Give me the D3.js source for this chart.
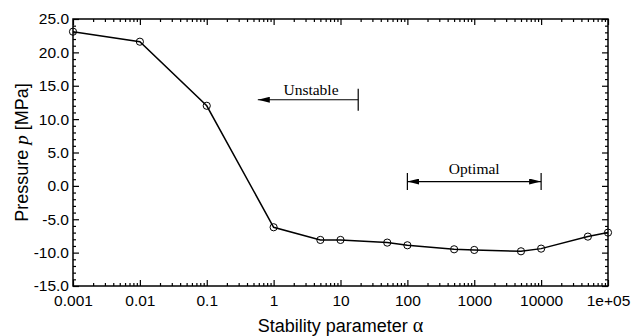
<!DOCTYPE html>
<html>
<head>
<meta charset="utf-8">
<script src="https://cdn.jsdelivr.net/npm/d3@7"></script>
<style>
  body { margin: 0; background: #fff; }
  svg { display: block; }
</style>
</head>
<body>
<div id="chart"></div>
<script>
// stability parameter vs pressure
const alphas = [0.001, 0.01, 0.1, 1, 5, 10, 50, 100, 500, 1000, 5000, 10000, 50000, 100000];
const pressures = [23.1, 21.6, 12.0, -6.2, -8.1, -8.1, -8.5, -8.9, -9.5, -9.6, -9.8, -9.4, -7.6, -7.0];

const xTicks = [0.001, 0.01, 0.1, 1, 10, 100, 1000, 10000, 100000];
const xTickLabels = ["0.001", "0.01", "0.1", "1", "10", "100", "1000", "10000", "1e+05"];
const yTicks = [-15, -10, -5, 0, 5, 10, 15, 20, 25];

// annotation ranges (alpha from, alpha to, pressure level)
const unstable = { label: "Unstable", from: 18.4, to: 0.58, y: 12.9 };
const optimal = { label: "Optimal", from: 100, to: 10000, y: 0.65 };

function drawChart(containerId = "#chart") {
    const width = 535;
    const height = 267;
    const margin = { top: 19, right: 29, bottom: 50, left: 73 };

    const root = d3.select(containerId)
        .append("svg")
        .attr("width", width + margin.left + margin.right)
        .attr("height", height + margin.top + margin.bottom);

    const defs = root.append("defs");
    defs.append("marker")
        .attr("id", "head")
        .attr("viewBox", "0 0 12 6")
        .attr("refX", 12)
        .attr("refY", 3)
        .attr("markerWidth", 12)
        .attr("markerHeight", 6)
        .attr("markerUnits", "userSpaceOnUse")
        .attr("orient", "auto-start-reverse")
        .append("path")
        .attr("d", "M0,0 L12,3 L0,6 Z")
        .attr("fill", "#000");

    const svg = root.append("g")
        .attr("transform", `translate(${margin.left},${margin.top})`);

    const x = d3.scaleLog()
        .domain([0.001, 100000])
        .range([0, width]);

    const y = d3.scaleLinear()
        .domain([-15, 25])
        .range([height, 0]);

    // minor ticks
    const xMinor = [];
    xTicks.slice(0, -1).forEach(d => {
        for (let k = 2; k <= 9; k++) xMinor.push(d * k);
    });
    const yMinor = d3.range(-15, 26, 1).filter(v => v % 5 !== 0);

    const minorAxes = [
        [d3.axisBottom(x).tickValues(xMinor), `translate(0,${height})`],
        [d3.axisTop(x).tickValues(xMinor), null],
        [d3.axisLeft(y).tickValues(yMinor), null],
        [d3.axisRight(y).tickValues(yMinor), `translate(${width},0)`]
    ];
    minorAxes.forEach(([ax, tr]) => {
        const g = svg.append("g")
            .call(ax.tickSize(-3).tickSizeOuter(0).tickFormat(""));
        if (tr) g.attr("transform", tr);
        g.select(".domain").remove();
        g.selectAll("line").attr("stroke", "#000").attr("stroke-width", 1);
    });

    // major ticks with labels
    const xAxis = svg.append("g")
        .attr("transform", `translate(0,${height})`)
        .call(d3.axisBottom(x)
            .tickValues(xTicks)
            .tickFormat((d, i) => xTickLabels[i])
            .tickSize(-6)
            .tickSizeOuter(0)
            .tickPadding(9));
    xAxis.selectAll("text")
        .style("font-family", "'Liberation Sans', Arial, sans-serif")
        .style("font-size", "15.5px")
        .attr("fill", "#000");

    const yAxis = svg.append("g")
        .call(d3.axisLeft(y)
            .tickValues(yTicks)
            .tickFormat(d => d.toFixed(1))
            .tickSize(-6)
            .tickSizeOuter(0)
            .tickPadding(4));
    yAxis.selectAll("text")
        .style("font-family", "'Liberation Sans', Arial, sans-serif")
        .style("font-size", "15.5px")
        .attr("fill", "#000");

    svg.append("g")
        .call(d3.axisTop(x).tickValues(xTicks).tickSize(-6).tickSizeOuter(0).tickFormat(""));
    svg.append("g")
        .attr("transform", `translate(${width},0)`)
        .call(d3.axisRight(y).tickValues(yTicks).tickSize(-6).tickSizeOuter(0).tickFormat(""));

    svg.selectAll(".domain").remove();
    svg.selectAll(".tick line").attr("stroke", "#000").attr("stroke-width", 1.2);

    // plot frame
    svg.append("rect")
        .attr("x", 0)
        .attr("y", 0)
        .attr("width", width)
        .attr("height", height)
        .attr("fill", "none")
        .attr("stroke", "#000")
        .attr("stroke-width", 1.5);

    // data line
    const points = alphas.map((a, i) => ({ a: a, p: pressures[i] }));
    svg.append("path")
        .datum(points)
        .attr("fill", "none")
        .attr("stroke", "#000")
        .attr("stroke-width", 1.5)
        .attr("d", d3.line().x(d => x(d.a)).y(d => y(d.p)));

    svg.selectAll("circle")
        .data(points)
        .enter().append("circle")
        .attr("cx", d => x(d.a))
        .attr("cy", d => y(d.p))
        .attr("r", 3.6)
        .attr("fill", "none")
        .attr("stroke", "#000")
        .attr("stroke-width", 1);

    // annotations
    const serif = "'Liberation Serif', 'Times New Roman', serif";

    // Unstable: bar at start, arrow pointing left
    const uy = y(unstable.y);
    svg.append("line")
        .attr("x1", x(unstable.from)).attr("x2", x(unstable.from))
        .attr("y1", uy - 11).attr("y2", uy + 11)
        .attr("stroke", "#000").attr("stroke-width", 1.2);
    svg.append("line")
        .attr("x1", x(unstable.from)).attr("x2", x(unstable.to))
        .attr("y1", uy).attr("y2", uy)
        .attr("stroke", "#000").attr("stroke-width", 1.2)
        .attr("marker-end", "url(#head)");
    svg.append("text")
        .attr("x", (x(unstable.from) + x(unstable.to)) / 2 + 3)
        .attr("y", uy - 4.5)
        .attr("text-anchor", "middle")
        .style("font-family", serif)
        .style("font-size", "15.5px")
        .text(unstable.label);

    // Optimal: bars at both ends, double arrow
    const oy = y(optimal.y);
    [optimal.from, optimal.to].forEach(v => {
        svg.append("line")
            .attr("x1", x(v)).attr("x2", x(v))
            .attr("y1", oy - 8.5).attr("y2", oy + 8.5)
            .attr("stroke", "#000").attr("stroke-width", 1.2);
    });
    svg.append("line")
        .attr("x1", x(optimal.from)).attr("x2", x(optimal.to))
        .attr("y1", oy).attr("y2", oy)
        .attr("stroke", "#000").attr("stroke-width", 1.2)
        .attr("marker-start", "url(#head)")
        .attr("marker-end", "url(#head)");
    svg.append("text")
        .attr("x", x(Math.sqrt(optimal.from * optimal.to)))
        .attr("y", oy - 7.5)
        .attr("text-anchor", "middle")
        .style("font-family", serif)
        .style("font-size", "15.5px")
        .text(optimal.label);

    // axis titles
    const xt = svg.append("text")
        .attr("x", width / 2)
        .attr("y", height + 46)
        .attr("text-anchor", "middle")
        .style("font-family", "'Liberation Sans', Arial, sans-serif")
        .style("font-size", "18px");
    xt.append("tspan").text("Stability parameter ");
    xt.append("tspan").style("font-family", serif).style("font-size", "20px").text("α");

    const yt = svg.append("text")
        .attr("transform", `translate(${-45},${height / 2}) rotate(-90)`)
        .attr("text-anchor", "middle")
        .style("font-family", "'Liberation Sans', Arial, sans-serif")
        .style("font-size", "18px");
    yt.append("tspan").text("Pressure ");
    yt.append("tspan").style("font-family", serif).style("font-style", "italic").style("font-size", "19px").text("p");
    yt.append("tspan").text(" [MPa]");
}

drawChart();
</script>
</body>
</html>
